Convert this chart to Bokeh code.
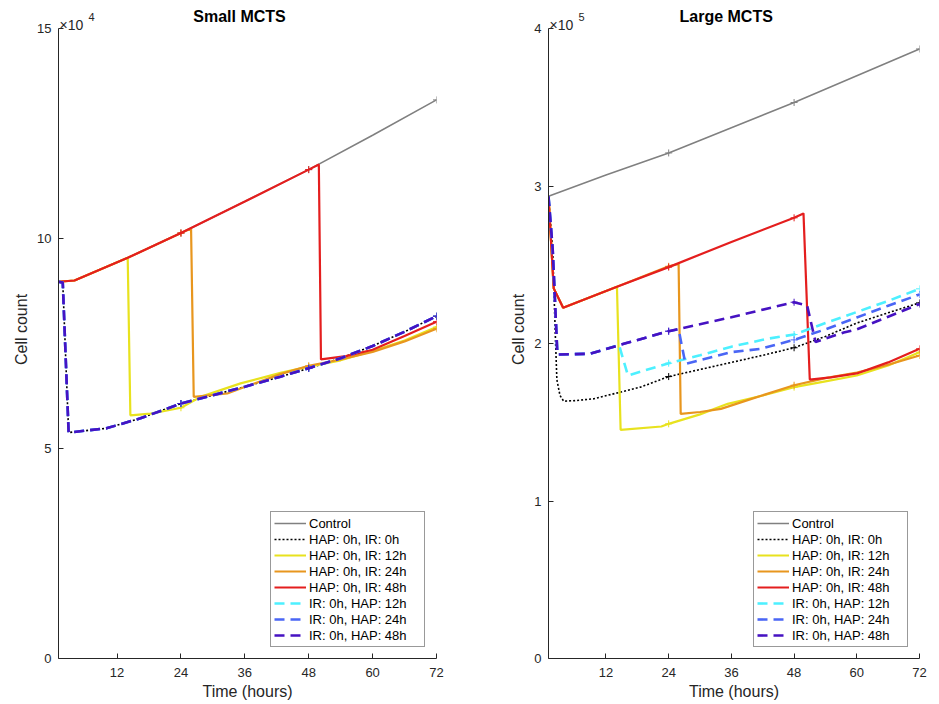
from bokeh.plotting import figure
from bokeh.models import Range1d, FixedTicker, Label, Legend, LegendItem
from bokeh.layouts import row
from bokeh.embed import file_html
from bokeh.resources import INLINE

# ---------------- data ----------------
TIME_TICKS = [12, 24, 36, 48, 60, 72]
MARK_TIMES = [24, 48, 72]
LEGEND_LABELS = ["Control", "HAP: 0h, IR: 0h", "HAP: 0h, IR: 12h", "HAP: 0h, IR: 24h",
                 "HAP: 0h, IR: 48h", "IR: 0h, HAP: 12h", "IR: 0h, HAP: 24h", "IR: 0h, HAP: 48h"]

# Small MCTS (cell count)
S_T_CTRL = [1, 4, 14, 24, 36, 48, 60, 72]
S_CTRL = [89700, 90000, 95400, 101300, 108800, 116400, 124600, 133000]
S_T_HAP0_IR0 = [1, 1.8, 2.9, 10, 16.4, 24, 30, 36, 42.7, 48, 54, 60, 66, 72]
S_HAP0_IR0 = [89700, 89500, 53800, 54800, 57200, 60700, 62700, 64700, 67100, 69100, 71500, 74400, 77800, 81500]
S_T_HAP0_IR12 = [1, 4, 14, 14.5, 18.3, 24, 27.7, 35.2, 42.7, 48, 54, 60, 66, 72]
S_HAP0_IR12 = [89700, 90000, 95400, 57900, 58300, 59700, 62300, 65500, 68000, 69500, 71000, 73200, 75700, 78900]
S_T_HAP0_IR24 = [1, 4, 14, 24, 25.9, 26.4, 32.7, 35.2, 42.7, 48, 54, 60, 66, 72]
S_HAP0_IR24 = [89700, 90000, 95400, 101300, 102400, 62300, 63100, 64300, 67700, 69700, 71200, 73000, 75500, 78500]
S_T_HAP0_IR48 = [1, 4, 14, 24, 36, 48, 49.9, 50.3, 55, 60, 66, 72]
S_HAP0_IR48 = [89700, 90000, 95400, 101300, 108800, 116400, 117600, 71200, 72000, 73500, 76800, 80200]
S_T_IR0_HAP = [1, 1.8, 2.9, 10, 16.4, 24, 30, 36, 42.7, 48, 54, 60, 66, 72]
S_IR0_HAP12 = [89700, 89500, 53800, 54800, 57200, 60700, 62700, 64700, 67100, 69100, 71500, 74400, 77800, 81500]
S_IR0_HAP24 = [89700, 89500, 53800, 54800, 57200, 60700, 62700, 64700, 67100, 69100, 71500, 74400, 77800, 81500]
S_IR0_HAP48 = [89700, 89500, 53800, 54800, 57200, 60700, 62700, 64700, 67100, 69100, 71500, 74400, 77800, 81500]

# Large MCTS (cell count)
L_T_CTRL = [1, 12, 24, 36, 48, 60, 72]
L_CTRL = [293500, 307000, 321000, 337000, 353000, 370000, 387000]
L_T_HAP0_IR0 = [1, 1.8, 2.3, 2.6, 3.2, 3.9, 6, 9.7, 14, 18.6, 24, 30, 36, 42, 48, 54, 60, 66, 72]
L_HAP0_IR0 = [293500, 260000, 206000, 177000, 167000, 163400, 163700, 164900, 168500, 172300, 179000,
              183500, 188000, 192500, 197300, 204500, 213000, 219500, 225800]
L_T_HAP0_IR12 = [1, 2.0, 3.8, 14.1, 14.8, 22.6, 24, 30, 35.3, 42, 48, 54, 60, 66, 72]
L_HAP0_IR12 = [293500, 235000, 222700, 236000, 145200, 147300, 149000, 155000, 161700, 167000, 172300,
               176000, 179700, 186000, 194500]
L_T_HAP0_IR24 = [1, 2.0, 3.8, 14.1, 24, 25.9, 26.3, 30, 34, 40, 48, 54, 60, 66, 72]
L_HAP0_IR24 = [293500, 235000, 222700, 236000, 249000, 250500, 155300, 156500, 158500, 165000, 173500,
               178000, 181500, 186500, 192400]
L_T_HAP0_IR48 = [1, 2.0, 3.8, 14.1, 24, 36, 48, 49.8, 51.0, 55, 60, 66, 72]
L_HAP0_IR48 = [293500, 235000, 222700, 236000, 248500, 264500, 279800, 282600, 177100, 178500, 181000,
               188000, 196600]
L_T_IR0_HAP12 = [1, 1.8, 2.7, 9.0, 14.5, 16.2, 24, 30, 36, 42.9, 48, 54, 60, 66, 72]
L_IR0_HAP12 = [293500, 260000, 193000, 193500, 199000, 179700, 187500, 192500, 198000, 203000, 205700,
               213000, 220000, 227000, 234700]
L_T_IR0_HAP24 = [1, 1.8, 2.7, 9.0, 15.4, 24, 25.9, 27.2, 36, 41.6, 48, 54, 60, 66, 72]
L_IR0_HAP24 = [293500, 260000, 193000, 193500, 199800, 207800, 209000, 187100, 194500, 196600, 202300,
               209000, 216500, 224000, 231100]
L_T_IR0_HAP48 = [1, 1.8, 2.7, 9.0, 15.4, 24, 36, 48, 50.5, 52.1, 57.5, 60, 66, 72]
L_IR0_HAP48 = [293500, 260000, 193000, 193500, 199800, 207800, 216700, 226200, 224000, 201000, 207000,
               209000, 217000, 225000]

SMALL_Y_TICKS = [0, 50000, 100000, 150000]
SMALL_Y_LABELS = ["0", "5", "10", "15"]
LARGE_Y_TICKS = [0, 100000, 200000, 300000, 400000]
LARGE_Y_LABELS = ["0", "1", "2", "3", "4"]

# ---------------- styling ----------------
FONT = "Liberation Sans"
AX = "#262626"
COLORS = ["#808080", "#000000", "#E8E21E", "#E8961E", "#E41E1E", "#4DF0FF", "#4A66F5", "#4612C2"]
WIDTHS = [1.6, 1.6, 2.2, 2.2, 2.2, 2.6, 2.6, 2.6]
DASHES = ["solid", "2 2", "solid", "solid", "solid", "10 6", "10 6", "10 6"]

FRAME_H = 658        # frame spans the whole height above the x axis
AXIS_TOP_PX = 28     # where the top of the y axis sits inside the frame


def make_panel(title, series, ymax, yticks, ylabels, exponent, border_left, border_right, frame_w):
    yend = ymax * FRAME_H / (FRAME_H - AXIS_TOP_PX)
    p = figure(frame_width=frame_w, frame_height=FRAME_H,
               x_range=Range1d(1, 72), y_range=Range1d(0, yend),
               output_backend="svg", toolbar_location=None, title=None,
               min_border_left=border_left, min_border_right=border_right,
               min_border_top=0, min_border_bottom=0)
    p.outline_line_color = None
    p.grid.visible = False
    p.background_fill_color = "white"
    p.border_fill_color = "white"

    for ax in (p.xaxis[0], p.yaxis[0]):
        ax.axis_line_color = AX
        ax.axis_line_width = 1
        ax.major_tick_line_color = AX
        ax.major_tick_in = 5
        ax.major_tick_out = 0
        ax.minor_tick_line_color = None
        ax.major_label_text_font = FONT
        ax.major_label_text_font_size = "13px"
        ax.major_label_text_color = AX
        ax.axis_label_text_font = FONT
        ax.axis_label_text_font_size = "16px"
        ax.axis_label_text_font_style = "normal"
        ax.axis_label_text_color = AX
    p.xaxis.ticker = FixedTicker(ticks=TIME_TICKS)
    p.xaxis.axis_label = "Time (hours)"
    p.xaxis.major_label_standoff = 9
    p.xaxis.axis_label_standoff = 3
    p.yaxis.ticker = FixedTicker(ticks=yticks)
    p.yaxis.bounds = (0, ymax)
    p.yaxis.major_label_overrides = {t: s for t, s in zip(yticks, ylabels)}
    p.yaxis.axis_label = "Cell count"
    p.yaxis.major_label_standoff = 7
    p.yaxis.axis_label_standoff = 4

    items = []
    for (t, v), lab, c, w, d in zip(series, LEGEND_LABELS, COLORS, WIDTHS, DASHES):
        r = p.line(t, v, line_color=c, line_width=w, line_dash=d)
        mx = [ti for ti in t if ti in MARK_TIMES]
        my = [vi for ti, vi in zip(t, v) if ti in MARK_TIMES]
        p.scatter(mx, my, marker="cross", size=7, line_color=c, line_width=1)
        items.append(LegendItem(label=lab, renderers=[r]))

    leg = Legend(items=items, location="bottom_right")
    leg.margin = 11
    leg.padding = 3
    leg.spacing = 0
    leg.label_height = 16
    leg.glyph_height = 16
    leg.glyph_width = 32
    leg.label_width = 112
    leg.label_standoff = 3
    leg.label_text_font = FONT
    leg.label_text_font_size = "13px"
    leg.label_text_color = "#000000"
    leg.border_line_color = "#333333"
    leg.border_line_width = 1
    leg.background_fill_color = "white"
    leg.background_fill_alpha = 1
    p.add_layout(leg)

    p.add_layout(Label(x=35, y=ymax, text=title, text_font=FONT, text_font_size="16px",
                       text_font_style="bold", text_align="center", text_baseline="middle",
                       y_offset=12, text_color="#000000"))
    p.add_layout(Label(x=1, y=ymax, text="\u00d710", text_font=FONT, text_font_size="14px",
                       text_align="left", text_baseline="alphabetic", x_offset=1, y_offset=4,
                       text_color=AX))
    p.add_layout(Label(x=1, y=ymax, text=exponent, text_font=FONT, text_font_size="11px",
                       text_align="left", text_baseline="alphabetic", x_offset=30, y_offset=12,
                       text_color=AX))
    return p


small_series = [(S_T_CTRL, S_CTRL), (S_T_HAP0_IR0, S_HAP0_IR0), (S_T_HAP0_IR12, S_HAP0_IR12),
                (S_T_HAP0_IR24, S_HAP0_IR24), (S_T_HAP0_IR48, S_HAP0_IR48),
                (S_T_IR0_HAP, S_IR0_HAP12), (S_T_IR0_HAP, S_IR0_HAP24), (S_T_IR0_HAP, S_IR0_HAP48)]
large_series = [(L_T_CTRL, L_CTRL), (L_T_HAP0_IR0, L_HAP0_IR0), (L_T_HAP0_IR12, L_HAP0_IR12),
                (L_T_HAP0_IR24, L_HAP0_IR24), (L_T_HAP0_IR48, L_HAP0_IR48),
                (L_T_IR0_HAP12, L_IR0_HAP12), (L_T_IR0_HAP24, L_IR0_HAP24), (L_T_IR0_HAP48, L_IR0_HAP48)]

p1 = make_panel("Small MCTS", small_series, 150000, SMALL_Y_TICKS, SMALL_Y_LABELS, "4", 58, 67, 378)
p2 = make_panel("Large MCTS", large_series, 400000, LARGE_Y_TICKS, LARGE_Y_LABELS, "5", 45, 12, 371)

layout = row(p1, p2)
open("out.html", "w").write(file_html(layout, INLINE))
